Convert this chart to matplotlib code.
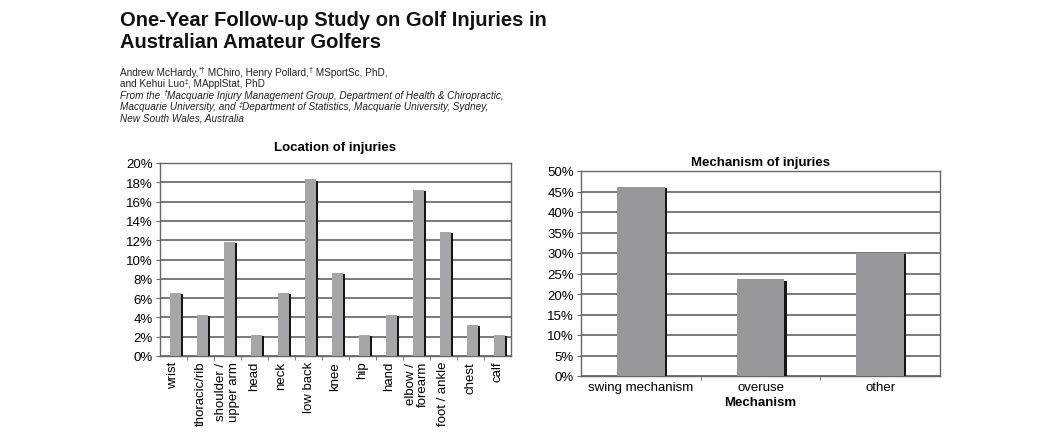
import numpy as np
import matplotlib
matplotlib.use("Agg")
import matplotlib.pyplot as plt
from matplotlib.ticker import PercentFormatter, FixedLocator

plt.rcParams["font.family"] = ["Liberation Sans", "DejaVu Sans"]

# data
location_labels = ["wrist", "thoracic/rib", "shoulder /\nupper arm", "head", "neck",
                   "low back", "knee", "hip", "hand", "elbow /\nforearm",
                   "foot / ankle", "chest", "calf"]
location_values = [6.5, 4.3, 11.8, 2.2, 6.5, 18.3, 8.6, 2.2, 4.3, 17.2, 12.9, 3.2, 2.2]

mechanism_labels = ["swing mechanism", "overuse", "other"]
mechanism_values = [46.2, 23.6, 30.0]

# header lines as (text, superscript) pieces
header_lines = [
    ("normal", [("Andrew McHardy,", False), ("*†", True), (" MChiro, Henry Pollard,", False),
                ("†", True), (" MSportSc, PhD,", False)]),
    ("normal", [("and Kehui Luo", False), ("‡", True), (", MApplStat, PhD", False)]),
    ("italic", [("From the ", False), ("†", True),
                ("Macquarie Injury Management Group, Department of Health & Chiropractic,", False)]),
    ("italic", [("Macquarie University, and ", False), ("‡", True),
                ("Department of Statistics, Macquarie University, Sydney,", False)]),
    ("italic", [("New South Wales, Australia", False)]),
]

W, H = 1062, 439
fig = plt.figure(figsize=(W / 100, H / 100), dpi=100)
renderer = fig.canvas.get_renderer()


def px_axes(left, top, right, bottom):
    return fig.add_axes([left / W, 1 - bottom / H, (right - left) / W, (bottom - top) / H])


def shaded_bars(ax, values, width, shadow_w, offset, bar_color, drop):
    x = np.arange(len(values)) + offset
    vals = np.array(values)
    ax.bar(x, vals, width=width, color=bar_color, zorder=3, linewidth=0)
    ax.bar(x + width / 2 + shadow_w / 2, vals - drop, width=shadow_w,
           color="#151515", zorder=3, linewidth=0)


def style_axes(ax, n, ymax, ystep):
    ax.set_xlim(-0.5, n - 0.5)
    ax.set_ylim(0, ymax)
    ax.set_yticks(np.arange(0, ymax + 0.01, ystep))
    ax.yaxis.set_major_formatter(PercentFormatter(decimals=0))
    ax.grid(axis="y", color="#555555", linewidth=1.1, zorder=0)
    for s in ax.spines.values():
        s.set_color("#666666")
        s.set_linewidth(1.0)
    ax.tick_params(axis="y", length=3, color="#666666", labelsize=9.5, pad=2)
    ax.tick_params(axis="x", which="major", length=0, labelsize=9.5)
    ax.xaxis.set_minor_locator(FixedLocator(np.arange(0.5, n - 1, 1.0)))
    ax.tick_params(axis="x", which="minor", length=3, color="#666666")


# header text
fig.text(120 / W, 1 - 11 / H, "One-Year Follow-up Study on Golf Injuries in\nAustralian Amateur Golfers",
         fontsize=14.5, fontweight="bold", va="top", ha="left", linespacing=1.2, color="#111111")
for i, (style, pieces) in enumerate(header_lines):
    x = 120.0
    base = 75.5 + 11.6 * i
    for txt, sup in pieces:
        t = fig.text(x / W, 1 - (base - (3.5 if sup else 0)) / H, txt,
                     fontsize=5 if sup else 7.2, va="baseline", ha="left",
                     style=style, color="#222222")
        x += t.get_window_extent(renderer).width

# left chart
ax1 = px_axes(160, 164, 511, 357)
shaded_bars(ax1, location_values, 0.41, 0.07, 0.08, "#a6a6a8", 0.12)
style_axes(ax1, len(location_values), 20, 2)
ax1.set_xticks(np.arange(len(location_labels)))
ax1.set_xticklabels(location_labels, rotation=90, linespacing=1.0)
ax1.set_title("Location of injuries", fontsize=9.5, fontweight="bold", pad=9)

# right chart
ax2 = px_axes(581, 172, 940, 377)
shaded_bars(ax2, mechanism_values, 0.40, 0.018, 0.0, "#98989b", 0.35)
style_axes(ax2, len(mechanism_values), 50, 5)
ax2.set_xticks(np.arange(len(mechanism_labels)))
ax2.set_xticklabels(mechanism_labels)
ax2.set_title("Mechanism of injuries", fontsize=9.5, fontweight="bold", pad=4.5)
ax2.set_xlabel("Mechanism", fontsize=9.5, fontweight="bold", labelpad=2)

fig.savefig("out.png", dpi=100)
